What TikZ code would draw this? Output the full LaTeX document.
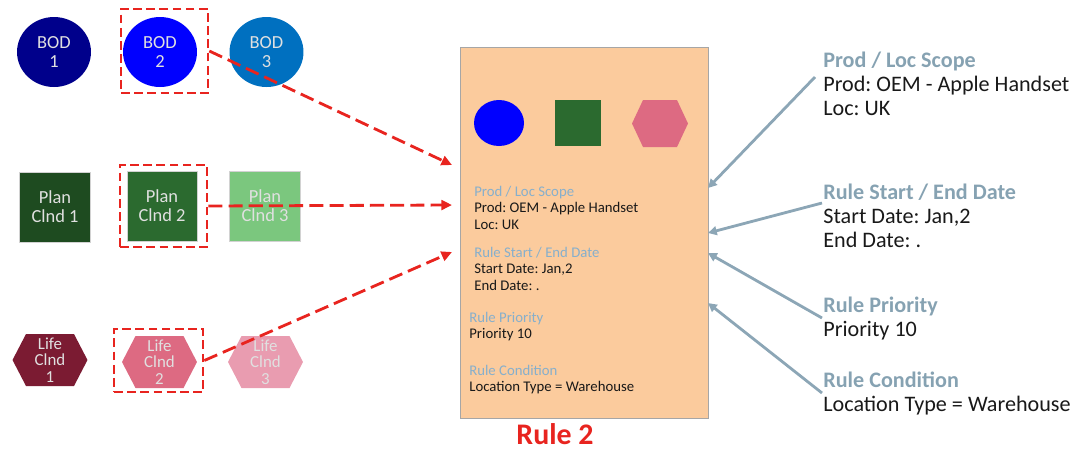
\documentclass[tikz,border=0pt]{standalone}
\usepackage{fontspec}
\setmainfont{Carlito}
\frenchspacing
\usetikzlibrary{arrows.meta,shapes.geometric}

\definecolor{bodA}{HTML}{00008B}
\definecolor{bodB}{HTML}{0000FF}
\definecolor{bodC}{HTML}{0070C0}
\definecolor{planA}{HTML}{1E4B20}
\definecolor{planB}{HTML}{2B6A2F}
\definecolor{planC}{HTML}{7BC77E}
\definecolor{lifeA}{HTML}{7B1B32}
\definecolor{lifeB}{HTML}{DD6A82}
\definecolor{lifeC}{HTML}{E99CB0}
\definecolor{ruleFill}{HTML}{FBCB9D}
\definecolor{ruleRed}{HTML}{E8241F}
\definecolor{headBlue}{HTML}{86AFCC}
\definecolor{sideHead}{HTML}{86A2B2}
\definecolor{pointGray}{HTML}{8CA6B6}

\tikzset{
  hex cut/.store in=\hexcut, hex cut=0.27cm,
  hexnode/.style={rectangle,path picture={
    \fill[#1] (path picture bounding box.west)
      --([xshift=\hexcut]path picture bounding box.north west)
      --([xshift=-\hexcut]path picture bounding box.north east)
      --(path picture bounding box.east)
      --([xshift=-\hexcut]path picture bounding box.south east)
      --([xshift=\hexcut]path picture bounding box.south west)--cycle;}}
}

\begin{document}
\begin{tikzpicture}[x=0.02cm,y=-0.02cm,
  shapetxt/.style={text=white!88!black,align=center,inner sep=0pt},
  bod/.style={shapetxt,ellipse,fill=#1,minimum width=1.48cm,minimum height=1.4cm,font=\fontsize{10.5}{10.8}\selectfont},
  plan/.style={shapetxt,rectangle,fill=#1,draw=gray!35,line width=0.3pt,minimum width=1.42cm,minimum height=1.4cm,font=\fontsize{10.5}{10.8}\selectfont},
  life/.style={shapetxt,hexnode=#1,minimum width=1.5cm,minimum height=1.04cm,font=\fontsize{9.6}{9.4}\selectfont},
  selbox/.style={draw=ruleRed,dash pattern=on 5pt off 2.5pt,line width=1.5pt,inner sep=0pt},
  pick/.style={draw=ruleRed,dash pattern=on 8pt off 3.5pt,line width=1.6pt,-{Triangle[length=6pt,width=5.5pt]}},
  point/.style={draw=pointGray,line width=1.6pt,-{Triangle[length=5pt,width=5pt]}},
  boxtxt/.style={anchor=north west,align=left,inner sep=0pt,text=black!90,font=\fontsize{8.4}{9.3}\selectfont},
  sidetxt/.style={anchor=north west,align=left,inner sep=0pt,text=black!90,font=\fontsize{12.6}{13.5}\selectfont}]
\useasboundingbox (0,0) rectangle (1085,451);

% candidate objects
\node[bod=bodA](bod1) at (54,52){BOD\\1};
\node[bod=bodB](bod2) at (160,52){BOD\\2};
\node[bod=bodC](bod3) at (266.5,52){BOD\\3};
\node[plan=planA](plan1) at (55,207){Plan\\Clnd 1};
\node[plan=planB,minimum width=1.4cm](plan2) at (162,206){Plan\\Clnd 2};
\node[plan=planC](plan3) at (265,206){Plan\\Clnd 3};
\node[life=lifeA](life1) at (50,360){Life\\Clnd\\1};
\node[life=lifeB](life2) at (159.5,362){Life\\Clnd\\2};
\node[life=lifeC](life3) at (265.5,362){Life\\Clnd\\3};

% selected ones
\node[selbox,minimum width=1.74cm,minimum height=1.68cm](sel1) at (164.5,51){};
\node[selbox,minimum width=1.74cm,minimum height=1.64cm](sel2) at (163.5,206){};
\node[selbox,minimum width=1.78cm,minimum height=1.26cm](sel3) at (158.5,360.5){};

% the rule
\node[draw=gray!70,line width=0.4pt,fill=ruleFill,minimum width=4.96cm,minimum height=7.42cm](rule) at (584,232.5){};
\node[ellipse,fill=bodB,minimum width=1cm,minimum height=0.92cm](miniBod) at (499,123){};
\node[fill=planB,minimum size=0.92cm](miniPlan) at (578,123){};
\node[hexnode=lifeB,hex cut=0.22cm,minimum width=1.12cm,minimum height=0.94cm,inner sep=0pt](miniLife) at (660,123.5){};
\node[boxtxt](boxScope) at (474,186){\textcolor{headBlue}{Prod / Loc Scope}\\Prod: OEM - Apple Handset\\Loc: UK};
\node[boxtxt](boxDates) at (474,247){\textcolor{headBlue}{Rule Start / End Date}\\Start Date: Jan,2\\End Date: .};
\node[boxtxt](boxPrio) at (469,312){\textcolor{headBlue}{Rule Priority}\\Priority 10};
\node[boxtxt](boxCond) at (469,365){\textcolor{headBlue}{Rule Condition}\\Location Type = Warehouse};
\node[inner sep=0pt,text=ruleRed,font=\fontsize{17}{19}\selectfont\bfseries](ruleName) at (555,434){Rule 2};

% explanations
\node[sidetxt](sideScope) at (823,52){\textcolor{sideHead}{\bfseries Prod / Loc Scope}\\Prod: OEM - Apple Handset\\Loc: UK};
\node[sidetxt](sideDates) at (823,184){\textcolor{sideHead}{\bfseries Rule Start / End Date}\\Start Date: Jan,2\\End Date: .};
\node[sidetxt](sidePrio) at (823,297){\textcolor{sideHead}{\bfseries Rule Priority}\\Priority 10};
\node[sidetxt](sideCond) at (823,372){\textcolor{sideHead}{\bfseries Rule Condition}\\Location Type = Warehouse};

\coordinate(r1) at (452,165);
\coordinate(r2) at (452,205);
\coordinate(r3) at (452,252);
\draw[pick](sel1.east)--(r1);
\draw[pick](sel2.east)--(r2);
\draw[pick](sel3.east)--(r3);

\coordinate(p1) at (815,77);
\coordinate(p2) at (822,203);
\coordinate(p3) at (822,318);
\coordinate(p4) at (822,393);
\coordinate(q1) at (708,188);
\coordinate(q2) at (708,233);
\coordinate(q3) at (708,253);
\coordinate(q4) at (708,303);
\draw[point](p1)--(q1);
\draw[point](p2)--(q2);
\draw[point](p3)--(q3);
\draw[point](p4)--(q4);
\end{tikzpicture}
\end{document}
